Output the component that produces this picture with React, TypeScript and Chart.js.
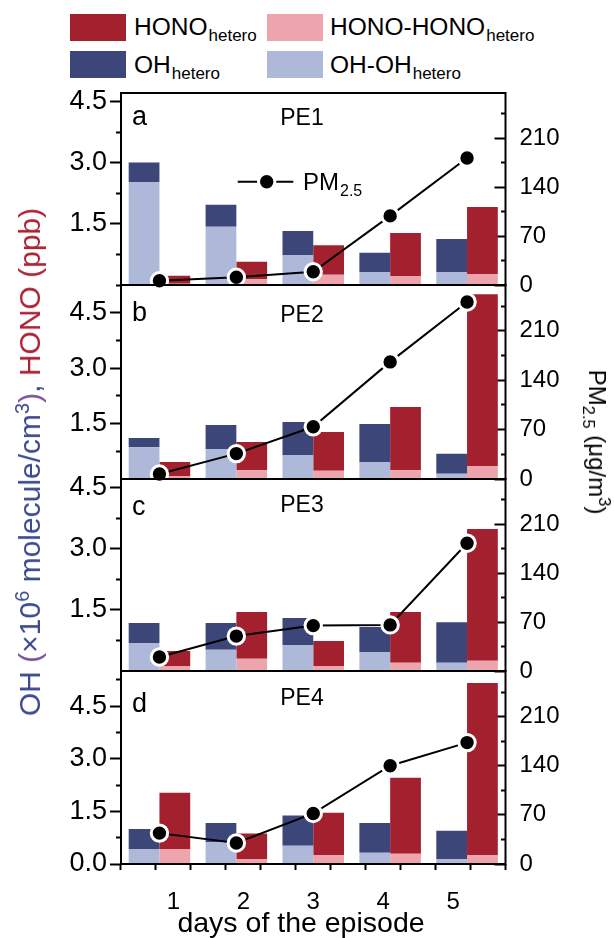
import React, { useEffect, useLayoutEffect, useRef } from 'react';
import { Chart, registerables } from 'chart.js';

Chart.register(...registerables);

const FONT = '"Liberation Sans", Arial, Helvetica, sans-serif';
Chart.defaults.font.family = FONT;
Chart.defaults.color = '#000';

// ---------------- data ----------------
const days = ['1', '2', '3', '4', '5'];
const panelLetters = ['a', 'b', 'c', 'd'];
const panelNames = ['PE1', 'PE2', 'PE3', 'PE4'];
const xTitle = 'days of the episode';

// OH (x10^6 molecule/cm3): OH - OH_hetero (light) and OH_hetero (dark)
const ohRestA = [2.53, 1.43, 0.74, 0.32, 0.32];
const ohHetA = [0.48, 0.54, 0.59, 0.47, 0.81];
const ohRestB = [0.86, 0.81, 0.65, 0.46, 0.14];
const ohHetB = [0.25, 0.65, 0.89, 1.03, 0.54];
const ohRestC = [0.69, 0.52, 0.64, 0.47, 0.2];
const ohHetC = [0.49, 0.66, 0.66, 0.61, 1.0];
const ohRestD = [0.43, 0.63, 0.52, 0.32, 0.14];
const ohHetD = [0.57, 0.54, 0.86, 0.85, 0.81];

// HONO (ppb): HONO - HONO_hetero (light) and HONO_hetero (dark)
const honoRestA = [0.03, 0.15, 0.25, 0.22, 0.27];
const honoHetA = [0.2, 0.42, 0.73, 1.06, 1.65];
const honoRestB = [0.08, 0.24, 0.22, 0.24, 0.35];
const honoHetB = [0.38, 0.76, 1.05, 1.71, 4.65];
const honoRestC = [0.12, 0.3, 0.12, 0.2, 0.25];
const honoHetC = [0.37, 1.15, 0.62, 1.25, 3.24];
const honoRestD = [0.43, 0.14, 0.26, 0.29, 0.26];
const honoHetD = [1.6, 0.73, 1.2, 2.17, 4.9];

// PM2.5 (ug/m3)
const pmA = [6, 11, 19, 99, 182];
const pmB = [7, 36, 74, 166, 251];
const pmC = [20, 50, 65, 66, 183];
const pmD = [44, 30, 72, 140, 173];

const ohRest = [ohRestA, ohRestB, ohRestC, ohRestD];
const ohHet = [ohHetA, ohHetB, ohHetC, ohHetD];
const honoRest = [honoRestA, honoRestB, honoRestC, honoRestD];
const honoHet = [honoHetA, honoHetB, honoHetC, honoHetD];
const pm = [pmA, pmB, pmC, pmD];

// axes
const leftMax = [4.72, 5.25, 4.72, 5.5];
const leftStep = 0.75;
const leftMajor = 1.5;
const rightMax = 275;
const rightStep = 35;
const rightMajor = 70;

// ---------------- style ----------------
const COL = {
  honoDark: '#a3202f',
  honoLight: '#eda4ad',
  ohDark: '#3c4679',
  ohLight: '#aeb8d9',
};
const W = 614;
const H = 938;
const PLOT_LEFT = 121;
const PLOT_RIGHT = 505.5;
const panelTops = [93, 285, 479, 671];
const panelBottoms = [285, 479, 671, 864];
const PAD = 45;
const TICK_FONT = 24;
const LEFT_TICK_FONT = 27;
const letterDy = [32, 36, 36, 41];
const nameDy = [32, 37, 33, 34];

const isMult = (v: any, m: number) =>
  typeof v === 'number' && Math.abs(v / m - Math.round(v / m)) < 1e-6;

const panelDecor = {
  id: 'panelDecor',
  beforeDatasetDraw(chart: any, args: any) {
    if (args.meta.type !== 'line') return;
    const { ctx, chartArea: a } = chart;
    ctx.save();
    ctx.lineWidth = 2;
    ctx.strokeStyle = '#000';
    ctx.strokeRect(a.left, a.top, a.right - a.left, a.bottom - a.top);
    ctx.restore();
  },
  afterDatasetsDraw(chart: any, _args: any, opts: any) {
    const { ctx, chartArea: a } = chart;
    ctx.save();
    ctx.fillStyle = '#000';
    ctx.textBaseline = 'alphabetic';
    ctx.textAlign = 'left';
    ctx.font = `27px ${FONT}`;
    ctx.fillText(opts.letter, a.left + 11, a.top + opts.letterDy);
    ctx.textAlign = 'center';
    ctx.font = `23px ${FONT}`;
    ctx.fillText(opts.name, 302, a.top + opts.nameDy);
    if (opts.pmLegend) {
      const y = a.top + 88.7;
      ctx.strokeStyle = '#000';
      ctx.lineWidth = 2;
      ctx.beginPath();
      ctx.moveTo(237.7, y);
      ctx.lineTo(293.3, y);
      ctx.stroke();
      ctx.beginPath();
      ctx.arc(266.7, y, 8.2, 0, Math.PI * 2);
      ctx.fillStyle = '#000';
      ctx.fill();
      ctx.lineWidth = 3;
      ctx.strokeStyle = '#fff';
      ctx.stroke();
      ctx.fillStyle = '#000';
      ctx.textAlign = 'left';
      ctx.font = `24px ${FONT}`;
      ctx.fillText('PM', 303, y + 8.3);
      const w = ctx.measureText('PM').width;
      ctx.font = `16px ${FONT}`;
      ctx.fillText('2.5', 303 + w + 1, y + 14);
    }
    if (opts.xTitle) {
      ctx.textAlign = 'center';
      ctx.font = `28.5px ${FONT}`;
      ctx.fillText(opts.xTitle, 301, H - panelTops[3] + PAD - 6.5);
    }
    ctx.restore();
  },
};

function buildConfig(i: number): any {
  const last = i === 3;
  const scales: any = {
    x: { type: 'category', display: false, stacked: true, offset: true },
    y: {
      type: 'linear',
      position: 'left',
      stacked: true,
      min: 0,
      max: leftMax[i],
      afterFit: (s: any) => {
        s.width = PLOT_LEFT;
      },
      afterBuildTicks: (s: any) => {
        if (!last) s.ticks = s.ticks.filter((t: any) => t.value > 1e-9);
      },
      ticks: {
        stepSize: leftStep,
        includeBounds: false,
        autoSkip: false,
        padding: 3,
        color: '#000',
        font: { size: LEFT_TICK_FONT },
        callback: (v: any) => (isMult(v, leftMajor) ? Number(v).toFixed(1) : ''),
      },
      grid: {
        drawOnChartArea: false,
        drawTicks: true,
        tickLength: 11,
        tickWidth: 2,
        tickColor: '#000',
        tickBorderDash: (c: any) => (c.tick && !isMult(c.tick.value, leftMajor) ? [0, 6, 20, 0] : []),
      },
      border: { display: false },
    },
    y2: {
      type: 'linear',
      position: 'right',
      min: 0,
      max: rightMax,
      afterFit: (s: any) => {
        s.width = W - PLOT_RIGHT;
      },
      ticks: {
        stepSize: rightStep,
        includeBounds: false,
        autoSkip: false,
        padding: 25,
        color: '#000',
        font: { size: TICK_FONT },
        callback: (v: any) => (isMult(v, rightMajor) ? String(v) : ''),
      },
      grid: {
        drawOnChartArea: false,
        drawTicks: true,
        tickLength: -11,
        tickWidth: 2,
        tickColor: '#000',
        tickBorderDash: (c: any) => (c.tick && !isMult(c.tick.value, rightMajor) ? [5, 100] : []),
      },
      border: { display: false },
    },
  };
  if (last) {
    scales.xt = {
      type: 'linear',
      position: 'bottom',
      min: 0.5,
      max: 5.5,
      afterFit: (s: any) => {
        s.height = H - panelBottoms[3];
      },
      ticks: {
        stepSize: 0.5,
        autoSkip: false,
        maxRotation: 0,
        padding: 18,
        color: '#000',
        font: { size: TICK_FONT },
        callback: (v: any) => (Number.isInteger(v) ? String(v) : ''),
      },
      grid: { drawOnChartArea: false, drawTicks: true, tickLength: 6, tickWidth: 2, tickColor: '#000' },
      border: { display: false },
    };
  }
  const bar = (label: string, data: number[], color: string, stack: string) => ({
    type: 'bar',
    label,
    data,
    backgroundColor: color,
    borderWidth: 0,
    stack,
    order: 1,
    xAxisID: 'x',
    yAxisID: 'y',
    categoryPercentage: 0.8,
    barPercentage: 1.0,
  });
  return {
    type: 'bar',
    data: {
      labels: days,
      datasets: [
        {
          type: 'line',
          label: 'PM2.5',
          data: pm[i],
          xAxisID: 'x',
          yAxisID: 'y2',
          borderColor: '#000',
          borderWidth: 2,
          pointRadius: 8.2,
          pointBackgroundColor: '#000',
          pointBorderColor: '#fff',
          pointBorderWidth: 3,
          tension: 0,
          order: 0,
          clip: false,
        },
        bar('OH-OH_hetero', ohRest[i], COL.ohLight, 'OH'),
        bar('OH_hetero', ohHet[i], COL.ohDark, 'OH'),
        bar('HONO-HONO_hetero', honoRest[i], COL.honoLight, 'HONO'),
        bar('HONO_hetero', honoHet[i], COL.honoDark, 'HONO'),
      ],
    },
    options: {
      responsive: false,
      animation: false,
      devicePixelRatio: 1,
      events: [],
      layout: { padding: { top: PAD, bottom: last ? 0 : PAD, left: 0, right: 0 } },
      plugins: {
        legend: { display: false },
        tooltip: { enabled: false },
        panelDecor: {
          letter: panelLetters[i],
          name: panelNames[i],
          letterDy: letterDy[i],
          nameDy: nameDy[i],
          pmLegend: i === 0,
          xTitle: last ? xTitle : '',
        },
      },
      scales,
    },
    plugins: [panelDecor],
  };
}

function Panel({ i }: { i: number }) {
  const ref = useRef<HTMLCanvasElement | null>(null);
  const last = i === 3;
  const top = panelTops[i] - PAD;
  const height = last ? H - top : panelBottoms[i] - panelTops[i] + 2 * PAD;
  useEffect(() => {
    if (!ref.current) return;
    const chart = new Chart(ref.current, buildConfig(i));
    return () => chart.destroy();
  }, [i]);
  return (
    <canvas
      ref={ref}
      width={W}
      height={height}
      style={{ position: 'absolute', left: 0, top, width: W, height }}
    />
  );
}

const legendItems = [
  { label: 'HONO', color: COL.honoDark, x: 70, y: 14, tx: 134, base: 36 },
  { label: 'HONO-HONO', color: COL.honoLight, x: 267, y: 14, tx: 330, base: 36 },
  { label: 'OH', color: COL.ohDark, x: 70, y: 51, tx: 134, base: 73.3 },
  { label: 'OH-OH', color: COL.ohLight, x: 267, y: 51, tx: 330, base: 73.3 },
];

const TXT_BLUE = '#3b4a8e';
const TXT_RED = '#ad2234';
const TXT_PURPLE = '#7c4ea3';

export default function App() {
  useLayoutEffect(() => {
    document.body.style.margin = '0';
  }, []);
  const sup = (t: string, size: number, raise: number, ml = 0) => (
    <span style={{ fontSize: size, verticalAlign: `${raise}px`, lineHeight: 0, marginLeft: ml }}>{t}</span>
  );
  return (
    <div style={{ position: 'relative', width: W, height: H, overflow: 'hidden', fontFamily: FONT, background: '#fff' }}>
      {legendItems.map((it) => (
        <React.Fragment key={it.label}>
          <div style={{ position: 'absolute', left: it.x, top: it.y, width: 56, height: 27, background: it.color }} />
          <div
            style={{
              position: 'absolute',
              left: it.tx,
              top: it.base - 0.8465 * 24.5,
              fontSize: 24.5,
              lineHeight: '24.5px',
              whiteSpace: 'nowrap',
              color: '#000',
            }}
          >
            {it.label}
            {sup('hetero', 17, -6, 1)}
          </div>
        </React.Fragment>
      ))}
      {[0, 1, 2, 3].map((i) => (
        <Panel key={i} i={i} />
      ))}
      <div
        style={{
          position: 'absolute',
          left: 29.5,
          top: 462,
          transform: 'translate(-50%, -50%) rotate(-90deg)',
          whiteSpace: 'nowrap',
          fontSize: 30,
          lineHeight: '30px',
        }}
      >
        <span style={{ color: TXT_BLUE }}>OH </span>
        <span style={{ color: TXT_PURPLE }}>(</span>
        <span style={{ color: TXT_BLUE }}>
          ×10{sup('6', 20, 11)} molecule/cm{sup('3', 20, 11)}
        </span>
        <span style={{ color: TXT_PURPLE }}>)</span>
        <span style={{ color: TXT_BLUE }}>, </span>
        <span style={{ color: TXT_RED }}>HONO (ppb)</span>
      </div>
      <div
        style={{
          position: 'absolute',
          left: 597,
          top: 442,
          transform: 'translate(-50%, -50%) rotate(90deg)',
          whiteSpace: 'nowrap',
          fontSize: 24,
          lineHeight: '24px',
          color: '#000',
        }}
      >
        PM{sup('2.5', 16.5, -6)} (μg/m{sup('3', 16.5, 10)})
      </div>
    </div>
  );
}
